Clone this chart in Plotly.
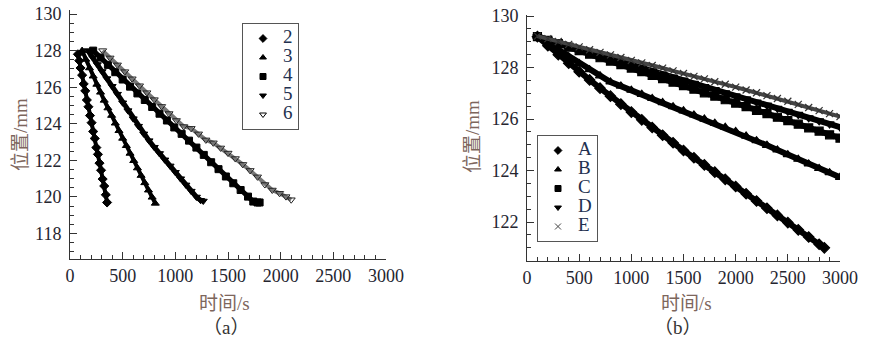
import plotly.graph_objects as go

# ---------------- Panel (a) data ----------------
a_names = ["2", "3", "4", "5", "6"]
a_x2 = [75, 88, 100, 115, 130, 145, 160, 175, 190, 205, 220, 235, 250, 265, 280, 295, 310, 325, 340, 352]
a_y2 = [127.80, 127.45, 127.05, 126.66, 126.18, 125.80, 125.30, 124.93, 124.45, 124.06, 123.58, 123.20,
        122.70, 122.33, 121.85, 121.46, 120.98, 120.60, 120.12, 119.70]
a_x3 = [115, 150, 185, 220, 255, 290, 325, 360, 395, 430, 465, 500, 535, 570, 605, 640, 675, 710, 745, 780, 810]
a_y3 = [128.00, 127.52, 127.05, 126.60, 126.15, 125.72, 125.28, 124.86, 124.45, 124.03, 123.62, 123.20,
        122.80, 122.38, 121.98, 121.58, 121.17, 120.77, 120.37, 119.98, 119.65]
a_x4 = [220, 290, 360, 430, 500, 570, 640, 710, 780, 850, 920, 990, 1060, 1130, 1200, 1270, 1340, 1410,
        1480, 1550, 1620, 1690, 1740, 1780, 1800]
a_y4 = [128.00, 127.62, 127.22, 126.82, 126.42, 126.03, 125.66, 125.30, 124.92, 124.55, 124.18, 123.80,
        123.45, 123.08, 122.70, 122.30, 121.90, 121.52, 121.12, 120.75, 120.38, 120.02, 119.75, 119.70, 119.70]
a_x5 = [170, 215, 260, 305, 350, 400, 450, 500, 550, 600, 650, 700, 750, 800, 850, 900, 950, 1000, 1050,
        1100, 1150, 1200, 1240, 1265]
a_y5 = [128.00, 127.62, 127.24, 126.86, 126.47, 126.05, 125.62, 125.15, 124.72, 124.28, 123.87, 123.45,
        123.08, 122.72, 122.38, 122.03, 121.70, 121.35, 121.00, 120.66, 120.32, 120.00, 119.82, 119.78]
a_x6 = [310, 380, 450, 520, 590, 660, 730, 800, 870, 940, 1010, 1080, 1150, 1220, 1290, 1360, 1430, 1500,
        1570, 1640, 1710, 1780, 1850, 1920, 1990, 2050, 2100]
a_y6 = [128.00, 127.60, 127.22, 126.85, 126.46, 126.08, 125.70, 125.32, 124.95, 124.56, 124.18, 123.85,
        123.75, 123.45, 123.12, 122.96, 122.68, 122.40, 122.10, 121.78, 121.45, 121.10, 120.68, 120.38,
        120.20, 120.02, 119.85]

# ---------------- Panel (b) data ----------------
b_names = ["A", "B", "C", "D", "E"]
b_xA = [100, 200, 300, 400, 500, 600, 700, 800, 900, 1000, 1100, 1200, 1300, 1400, 1500, 1600, 1700, 1800,
        1900, 2000, 2100, 2200, 2300, 2400, 2500, 2600, 2700, 2800, 2850]
b_yA = [129.20, 128.85, 128.50, 128.17, 127.84, 127.52, 127.20, 126.89, 126.58, 126.27, 125.97, 125.67,
        125.37, 125.08, 124.78, 124.50, 124.22, 123.94, 123.66, 123.38, 123.10, 122.82, 122.54, 122.26,
        121.98, 121.70, 121.42, 121.14, 121.00]
b_x = [100, 200, 300, 400, 500, 600, 700, 800, 900, 1000, 1100, 1200, 1300, 1400, 1500, 1600, 1700, 1800,
       1900, 2000, 2100, 2200, 2300, 2400, 2500, 2600, 2700, 2800, 2900, 3000]
b_yB = [129.20, 128.95, 128.68, 128.42, 128.16, 127.92, 127.68, 127.44, 127.28, 127.12, 126.96, 126.80,
        126.64, 126.48, 126.32, 126.16, 126.00, 125.84, 125.68, 125.52, 125.34, 125.16, 124.98, 124.80,
        124.62, 124.44, 124.26, 124.08, 123.92, 123.74]
b_yC = [129.20, 129.06, 128.93, 128.79, 128.66, 128.52, 128.38, 128.25, 128.11, 127.98, 127.84, 127.70,
        127.57, 127.43, 127.30, 127.16, 127.02, 126.89, 126.75, 126.62, 126.48, 126.34, 126.21, 126.07,
        125.94, 125.80, 125.66, 125.53, 125.39, 125.26]
b_yD = [129.20, 129.08, 128.96, 128.84, 128.72, 128.60, 128.47, 128.35, 128.23, 128.11, 127.99, 127.87,
        127.75, 127.63, 127.51, 127.39, 127.26, 127.14, 127.02, 126.90, 126.78, 126.66, 126.54, 126.42,
        126.30, 126.18, 126.05, 125.93, 125.81, 125.69]
b_yE = [129.22, 129.12, 129.01, 128.90, 128.80, 128.69, 128.59, 128.49, 128.39, 128.28, 128.18, 128.08,
        127.98, 127.87, 127.77, 127.66, 127.56, 127.45, 127.35, 127.24, 127.13, 127.02, 126.91, 126.80,
        126.69, 126.57, 126.45, 126.33, 126.21, 126.10]

a_xticks = [0, 500, 1000, 1500, 2000, 2500, 3000]
a_yticks = [118, 120, 122, 124, 126, 128, 130]
b_yticks = [122, 124, 126, 128, 130]

SERIF = "Liberation Serif"
CJK = "Liberation Serif, Noto Sans CJK SC"
TICK_COLOR = "#25252f"
TITLE_COLOR = "#7d665c"
AX_COLOR = "#333333"

fig = go.Figure()

a_series = [
    (a_x2, a_y2, "diamond", 7, "black", "black", 4),
    (a_x3, a_y3, "triangle-up", 7, "black", "black", 4),
    (a_x4, a_y4, "square", 7, "black", "black", 5),
    (a_x5, a_y5, "triangle-down", 7, "black", "black", 5),
    (a_x6, a_y6, "triangle-down-open", 7, "#222222", "#777777", 4),
]
for name, (xs, ys, sym, sz, mc, lc, lw) in zip(a_names, a_series):
    fig.add_trace(go.Scatter(x=xs, y=ys, mode="lines+markers", showlegend=False,
                             line=dict(color=lc, width=lw),
                             marker=dict(symbol=sym, size=sz, color=mc, line=dict(color=mc, width=1)),
                             xaxis="x", yaxis="y"))
    fig.add_trace(go.Scatter(x=[None], y=[None], mode="markers", legend="legend",
                             name="<span style='font-size:19px'>" + name + "</span>",
                             marker=dict(symbol=sym, size=6, color="black", line=dict(color="black", width=1)),
                             xaxis="x", yaxis="y"))

b_series = [
    (b_xA, b_yA, "diamond", 8, "black", "black", 6),
    (b_x, b_yB, "triangle-up", 8, "black", "black", 6),
    (b_x, b_yC, "square", 8, "black", "black", 6),
    (b_x, b_yD, "triangle-down", 8, "black", "black", 6),
    (b_x, b_yE, "x-thin-open", 7, "#333333", "#444444", 4),
]
for name, (xs, ys, sym, sz, mc, lc, lw) in zip(b_names, b_series):
    fig.add_trace(go.Scatter(x=xs, y=ys, mode="lines+markers", showlegend=False,
                             line=dict(color=lc, width=lw),
                             marker=dict(symbol=sym, size=sz, color=mc, line=dict(color=mc, width=1.2)),
                             xaxis="x2", yaxis="y2"))
    fig.add_trace(go.Scatter(x=[None], y=[None], mode="markers", legend="legend2",
                             name="<span style='font-size:19px'>" + name + "</span>",
                             marker=dict(symbol=sym, size=6, color="black" if name != "E" else "#444444",
                                         line=dict(color="black" if name != "E" else "#444444", width=1)),
                             xaxis="x2", yaxis="y2"))

H = 341
W = 871

def xaxis_cfg(domain):
    return dict(domain=domain, range=[0, 3000], tickmode="array", tickvals=a_xticks, automargin=False,
                ticks="inside", ticklen=7, tickwidth=1, tickcolor=AX_COLOR,
                showline=True, linecolor=AX_COLOR, linewidth=1, showgrid=False, zeroline=False,
                tickfont=dict(family=SERIF, size=18, color=TICK_COLOR),
                minor=dict(dtick=100, tick0=0, ticks="inside", ticklen=4, tickcolor=AX_COLOR, showgrid=False))

def yaxis_cfg(domain, rng, ticks, anchor):
    return dict(domain=domain, range=rng, tickmode="array", tickvals=ticks, anchor=anchor, automargin=False,
                ticks="inside", ticklen=7, tickwidth=1, tickcolor=AX_COLOR,
                showline=True, linecolor=AX_COLOR, linewidth=1, showgrid=False, zeroline=False,
                ticklabelstandoff=4,
                tickfont=dict(family=SERIF, size=18, color=TICK_COLOR),
                minor=dict(dtick=0.5, tick0=118, ticks="inside", ticklen=4, tickcolor=AX_COLOR, showgrid=False))

xa = xaxis_cfg([70 / W, 386 / W]); xa["anchor"] = "y"
xb = xaxis_cfg([527 / W, 840 / W]); xb["anchor"] = "y2"

legend_style = dict(bgcolor="white", bordercolor="#555555", borderwidth=1,
                    font=dict(family=SERIF, size=11, color="#22304f"),
                    itemwidth=30, tracegroupgap=0, xanchor="left", yanchor="top")

annots = []
for txt, x, y, ang in [("时间/s", 225, 303, 0), ("（a）", 226, 327, 0), ("位置/mm", 20, 135, -90),
                       ("时间/s", 686, 303, 0), ("（b）", 678, 327, 0), ("位置/mm", 472, 137, -90)]:
    col = "#333333" if "（" in txt else TITLE_COLOR
    annots.append(dict(text=txt, x=x / W, y=1 - y / H, xref="paper", yref="paper", showarrow=False,
                       textangle=ang, xanchor="center", yanchor="middle",
                       font=dict(family=CJK, size=19, color=col)))

fig.update_layout(
    width=W, height=H, margin=dict(l=0, r=0, t=0, b=0, pad=0, autoexpand=False),
    paper_bgcolor="white", plot_bgcolor="white",
    xaxis=xa,
    yaxis=yaxis_cfg([1 - 259 / H, 1 - 10 / H], [116.61, 130.22], a_yticks, "x"),
    xaxis2=xb,
    yaxis2=yaxis_cfg([1 - 261 / H, 1 - 15 / H], [120.49, 130.04], b_yticks, "x2"),
    legend=dict(x=242 / W, y=1 - 23 / H, **legend_style),
    legend2=dict(x=537 / W, y=1 - 135 / H, **legend_style),
    annotations=annots,
)

fig.write_html("out.html")
